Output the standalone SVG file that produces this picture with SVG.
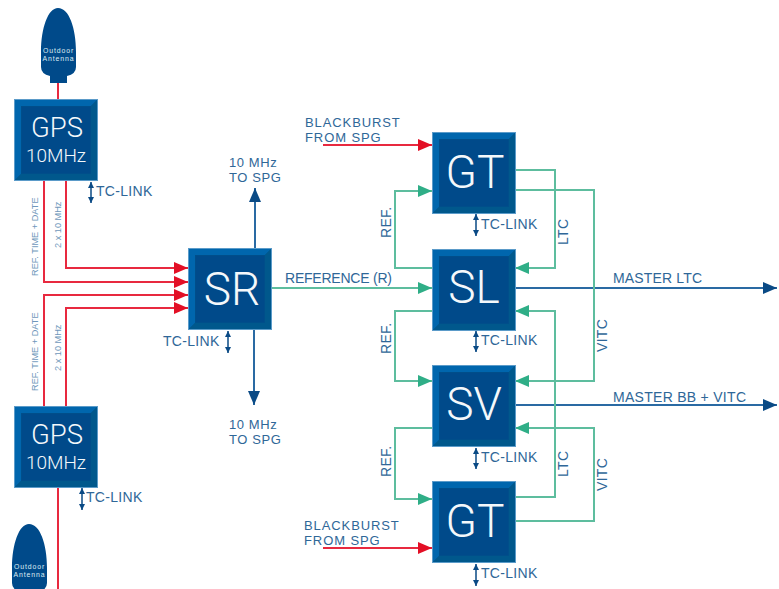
<svg xmlns="http://www.w3.org/2000/svg" xmlns:xlink="http://www.w3.org/1999/xlink" width="779" height="589" viewBox="0 0 779 589">
<style>
text{font-family:"Liberation Sans",Arial,sans-serif}
.l{font-size:14px;fill:#2f6798;letter-spacing:.3px}
.m{font-size:14px;fill:#2f6798}
.d{font-size:13px;fill:#2f6798;letter-spacing:.6px}
.e{font-size:13px;fill:#2f6798;letter-spacing:.9px}
.s{font-size:9.2px;fill:#6f97bb}
.n{fill:#f4f8fb;text-anchor:middle;font-size:46px;font-family:Roboto,"Liberation Sans",sans-serif;font-weight:300}
.g1{font-size:27.500px}
.g2{font-size:19px}
.a{fill:#dfecf3;text-anchor:middle;font-size:6.900px;letter-spacing:.9px}
.r,.g,.b,.t{fill:none}
.r{stroke:#e8293f;stroke-width:2}
.g{stroke:#5dbd9e;stroke-width:2}
.b{stroke:#2a6aa3;stroke-width:2}
.t{stroke:#0a4a85;stroke-width:1.5}
</style>
<defs>
<marker id="mr" markerUnits="userSpaceOnUse" markerWidth="14" markerHeight="12" refX="14" refY="6" orient="auto"><path d="M0 0L14 6L0 12Z" fill="#e30f25"/></marker>
<marker id="mg" markerUnits="userSpaceOnUse" markerWidth="14" markerHeight="12" refX="14" refY="6" orient="auto"><path d="M0 0L14 6L0 12Z" fill="#2fae87"/></marker>
<marker id="mb" markerUnits="userSpaceOnUse" markerWidth="14" markerHeight="12" refX="14" refY="6" orient="auto"><path d="M0 0L14 6L0 12Z" fill="#0a4a85"/></marker>
<marker id="mt" markerUnits="userSpaceOnUse" markerWidth="6" markerHeight="6" refX="6" refY="3" orient="auto-start-reverse"><path d="M0 0L6 3L0 6Z" fill="#0a4a85"/></marker>
<g id="box">
<rect width="84" height="82" fill="#00528a"/>
<path d="M0 0H84L77 7H7V75L0 82Z" fill="#0066ad"/>
<path d="M84 0V82H0L7 75H77V7Z" fill="#00588c"/>
<rect x="7.500" y="7.500" width="69" height="67" fill="#004a8a"/>
<rect x=".5" y=".5" width="83" height="81" fill="none" stroke="#5b9bc9" stroke-width="1"/>
</g>
<path id="ant" d="M17 0C28 0 35 20 35 44V59Q35 66 26 68V75H9V68Q0 66 0 59V44C0 20 7 0 17 0Z" fill="#004a8a"/>
</defs>
<g id="connectors">
<path class="r" d="M58 75V99"/>
<path class="r" d="M58 487V589"/>
<path class="r" d="M66 181V268H188" marker-end="url(#mr)"/>
<path class="r" d="M44 181V282H188" marker-end="url(#mr)"/>
<path class="r" d="M44 406V295H188" marker-end="url(#mr)"/>
<path class="r" d="M66 406V308H188" marker-end="url(#mr)"/>
<path class="r" d="M323 145H432" marker-end="url(#mr)"/>
<path class="r" d="M323 548H432" marker-end="url(#mr)"/>
<path class="b" d="M255 248V188" marker-end="url(#mb)"/>
<path class="b" d="M254 330V405" marker-end="url(#mb)"/>
<path class="b" d="M515 288H777" marker-end="url(#mb)"/>
<path class="b" d="M515 405H777" marker-end="url(#mb)"/>
<path class="g" d="M272 288H432" marker-end="url(#mg)"/>
<path class="g" d="M432 268H395V191H432" marker-end="url(#mg)"/>
<path class="g" d="M432 311H395V381H432" marker-end="url(#mg)"/>
<path class="g" d="M432 428H395V499H432" marker-end="url(#mg)"/>
<path class="g" d="M515 170H555V268H515" marker-end="url(#mg)"/>
<path class="g" d="M515 190H594V381H515" marker-end="url(#mg)"/>
<path class="g" d="M515 497H555V311H515" marker-end="url(#mg)"/>
<path class="g" d="M515 521H594V428H515" marker-end="url(#mg)"/>
<path class="t" d="M91 182V203" marker-start="url(#mt)" marker-end="url(#mt)"/>
<path class="t" d="M228 331V353" marker-start="url(#mt)" marker-end="url(#mt)"/>
<path class="t" d="M82 488V510" marker-start="url(#mt)" marker-end="url(#mt)"/>
<path class="t" d="M476 214V236" marker-start="url(#mt)" marker-end="url(#mt)"/>
<path class="t" d="M476 331V352" marker-start="url(#mt)" marker-end="url(#mt)"/>
<path class="t" d="M476 448V469" marker-start="url(#mt)" marker-end="url(#mt)"/>
<path class="t" d="M476 564V586" marker-start="url(#mt)" marker-end="url(#mt)"/>
</g>
<g id="antenna1"><use xlink:href="#ant" href="#ant" x="41" y="8"/><text class="a"><tspan x="58.500" y="53">Outdoor</tspan><tspan x="58.500" y="61">Antenna</tspan></text></g>
<g id="antenna2"><use xlink:href="#ant" href="#ant" x="12" y="524"/><text class="a"><tspan x="29.500" y="569">Outdoor</tspan><tspan x="29.500" y="577">Antenna</tspan></text></g>
<g id="gps1"><use xlink:href="#box" href="#box" x="14" y="99"/><text class="n g1" x="57" y="137">GPS</text><text class="n g2" x="56" y="161.500">10MHz</text></g>
<g id="gps2"><use xlink:href="#box" href="#box" x="14" y="406"/><text class="n g1" x="57" y="444">GPS</text><text class="n g2" x="56" y="468.500">10MHz</text></g>
<g id="sr"><use xlink:href="#box" href="#box" x="188" y="248"/><text class="n" x="232" y="305">SR</text></g>
<g id="gt1"><use xlink:href="#box" href="#box" x="432" y="132"/><text class="n" x="475" y="188">GT</text></g>
<g id="sl"><use xlink:href="#box" href="#box" x="432" y="249"/><text class="n" x="474" y="303">SL</text></g>
<g id="sv"><use xlink:href="#box" href="#box" x="432" y="365"/><text class="n" x="474" y="420">SV</text></g>
<g id="gt2"><use xlink:href="#box" href="#box" x="432" y="481"/><text class="n" x="475" y="537">GT</text></g>
<g id="labels">
<text class="l" x="96" y="196">TC-LINK</text>
<text class="l" x="163" y="346">TC-LINK</text>
<text class="l" x="86" y="502">TC-LINK</text>
<text class="l" x="481" y="229">TC-LINK</text>
<text class="l" x="481" y="345">TC-LINK</text>
<text class="l" x="481" y="462">TC-LINK</text>
<text class="l" x="481" y="578">TC-LINK</text>
<text class="d"><tspan x="229" y="166.500">10 MHz</tspan><tspan x="229" y="181.500">TO SPG</tspan></text>
<text class="d"><tspan x="229" y="428.500">10 MHz</tspan><tspan x="229" y="443.500">TO SPG</tspan></text>
<text class="e"><tspan x="305" y="126.500">BLACKBURST</tspan><tspan x="305" y="141.500">FROM SPG</tspan></text>
<text class="e"><tspan x="304" y="529.500">BLACKBURST</tspan><tspan x="304" y="544.500">FROM SPG</tspan></text>
<text class="m" x="285" y="283" textLength="107">REFERENCE (R)</text>
<text class="m" x="613" y="283" textLength="89">MASTER LTC</text>
<text class="m" x="613" y="402" textLength="133">MASTER BB + VITC</text>
<text class="l" transform="translate(391 238) rotate(-90)">REF.</text>
<text class="l" transform="translate(391 354) rotate(-90)">REF.</text>
<text class="l" transform="translate(391 477) rotate(-90)">REF.</text>
<text class="l" transform="translate(568 245) rotate(-90)">LTC</text>
<text class="l" transform="translate(568 477) rotate(-90)">LTC</text>
<text class="l" transform="translate(607 352) rotate(-90)">VITC</text>
<text class="l" transform="translate(607 491) rotate(-90)">VITC</text>
<text class="s" transform="translate(38 276) rotate(-90)">REF. TIME + DATE</text>
<text class="s" transform="translate(38 391) rotate(-90)">REF. TIME + DATE</text>
<text class="s" transform="translate(61 248) rotate(-90)">2 x 10 MHz</text>
<text class="s" transform="translate(61 371) rotate(-90)">2 x 10 MHz</text>
</g>
</svg>
